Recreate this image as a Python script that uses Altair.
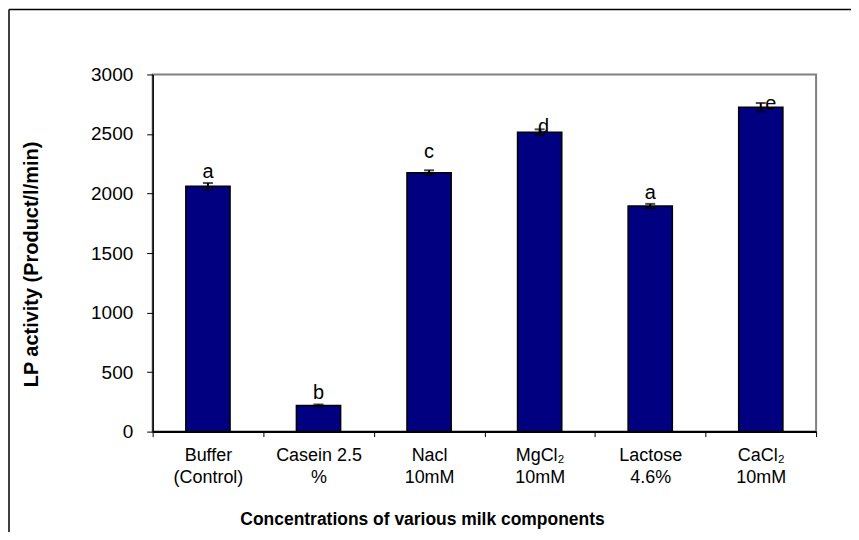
import altair as alt
import pandas as pd

categories = ["Buffer|(Control)", "Casein 2.5|%", "Nacl|10mM", "MgCl₂|10mM", "Lactose|4.6%", "CaCl₂|10mM"]
activity = [2060, 220, 2175, 2515, 1895, 2725]
errors = [28, 8, 20, 24, 18, 35]
letters = ["a", "b", "c", "d", "a", "e"]
letter_y = [2128, 277, 2296, 2506, 1958, 2704]
y_ticks = [0, 500, 1000, 1500, 2000, 2500, 3000]

df = pd.DataFrame({
    "cat": categories,
    "val": activity,
    "err": errors,
    "letter": letters,
    "ly": letter_y,
})
df["lo"] = df["val"] - df["err"]
df["hi"] = df["val"] + df["err"]

ytitle = "LP activity (Product/l/min)"
xtitle = "Concentrations of various milk components"

X = alt.X(
    "cat:N", sort=categories,
    scale=alt.Scale(paddingInner=0, paddingOuter=0),
    axis=alt.Axis(
        title=xtitle, labelAngle=0, labelExpr="split(datum.label, '|')",
        tickBand="extent", tickSize=5, labelPadding=10, labelLineHeight=22,
        labelFontSize=18, labelFont="'Liberation Sans Narrow', 'Liberation Sans', Arial",
        titleFontSize=17.5, titleFontWeight="bold", titleX=270, titleY=93,
        titleBaseline="alphabetic", titleAlign="center",
        domainWidth=2, tickWidth=1, labelOverlap=False,
    ),
)

yscale = alt.Scale(domain=[0, 3000], nice=False)
yaxis = alt.Axis(
    values=y_ticks, format="d", tickSize=6, labelPadding=14, labelFontSize=19,
    title=ytitle, titleFontSize=20, titleFontWeight="bold",
    titleX=-115, titleY=190, titleBaseline="alphabetic", titleAlign="center",
    grid=False, domainWidth=1.5, tickWidth=1,
)

base = alt.Chart(df).encode(x=X)

bars = base.mark_bar(width=alt.RelativeBandSize(0.4), fill="#000080",
                     stroke="black", strokeWidth=1.5).encode(
    y=alt.Y("val:Q", scale=yscale, axis=yaxis, title=ytitle)
)

err_rule = base.mark_rule(color="black", strokeWidth=2).encode(
    y=alt.Y("lo:Q", title=ytitle), y2="hi:Q"
)
cap_lo = base.mark_tick(color="black", thickness=2, size=10).encode(
    y=alt.Y("lo:Q", title=ytitle)
)
cap_hi = base.mark_tick(color="black", thickness=2, size=10).encode(
    y=alt.Y("hi:Q", title=ytitle)
)

txt_kw = dict(fontSize=20, baseline="alphabetic", font="Liberation Sans", color="black")
text_main = base.mark_text(**txt_kw).encode(
    y=alt.Y("ly:Q", title=ytitle), text="letter:N"
).transform_filter("datum.letter != 'd' && datum.letter != 'e'")
text_d = base.mark_text(dx=4, **txt_kw).encode(
    y=alt.Y("ly:Q", title=ytitle), text="letter:N"
).transform_filter("datum.letter == 'd'")
text_e = base.mark_text(dx=10, **txt_kw).encode(
    y=alt.Y("ly:Q", title=ytitle), text="letter:N"
).transform_filter("datum.letter == 'e'")

frame_df = pd.DataFrame({"k": [0]})
frame_left = alt.Chart(frame_df).mark_rule(color="black", strokeWidth=1.5).encode(
    x=alt.value(-144), y=alt.value(-65), y2=alt.value(470)
)
frame_top = alt.Chart(frame_df).mark_rule(color="black", strokeWidth=1.5).encode(
    x=alt.value(-144), x2=alt.value(700), y=alt.value(-65)
)

chart = alt.layer(
    bars, err_rule, cap_lo, cap_hi, text_main, text_d, text_e, frame_left, frame_top
).properties(
    width=665, height=358,
    padding={"left": 145, "top": 66, "right": 35, "bottom": 100},
    autosize=alt.AutoSizeParams(type="none"),
).configure_view(
    stroke="#808080", strokeWidth=2
).configure_axis(
    domainColor="#000000", tickColor="#000000", labelColor="#000000",
    titleColor="#000000", labelFont="Liberation Sans", titleFont="Liberation Sans",
)

chart.save("out.html", embed_options={"renderer": "svg", "actions": False})
